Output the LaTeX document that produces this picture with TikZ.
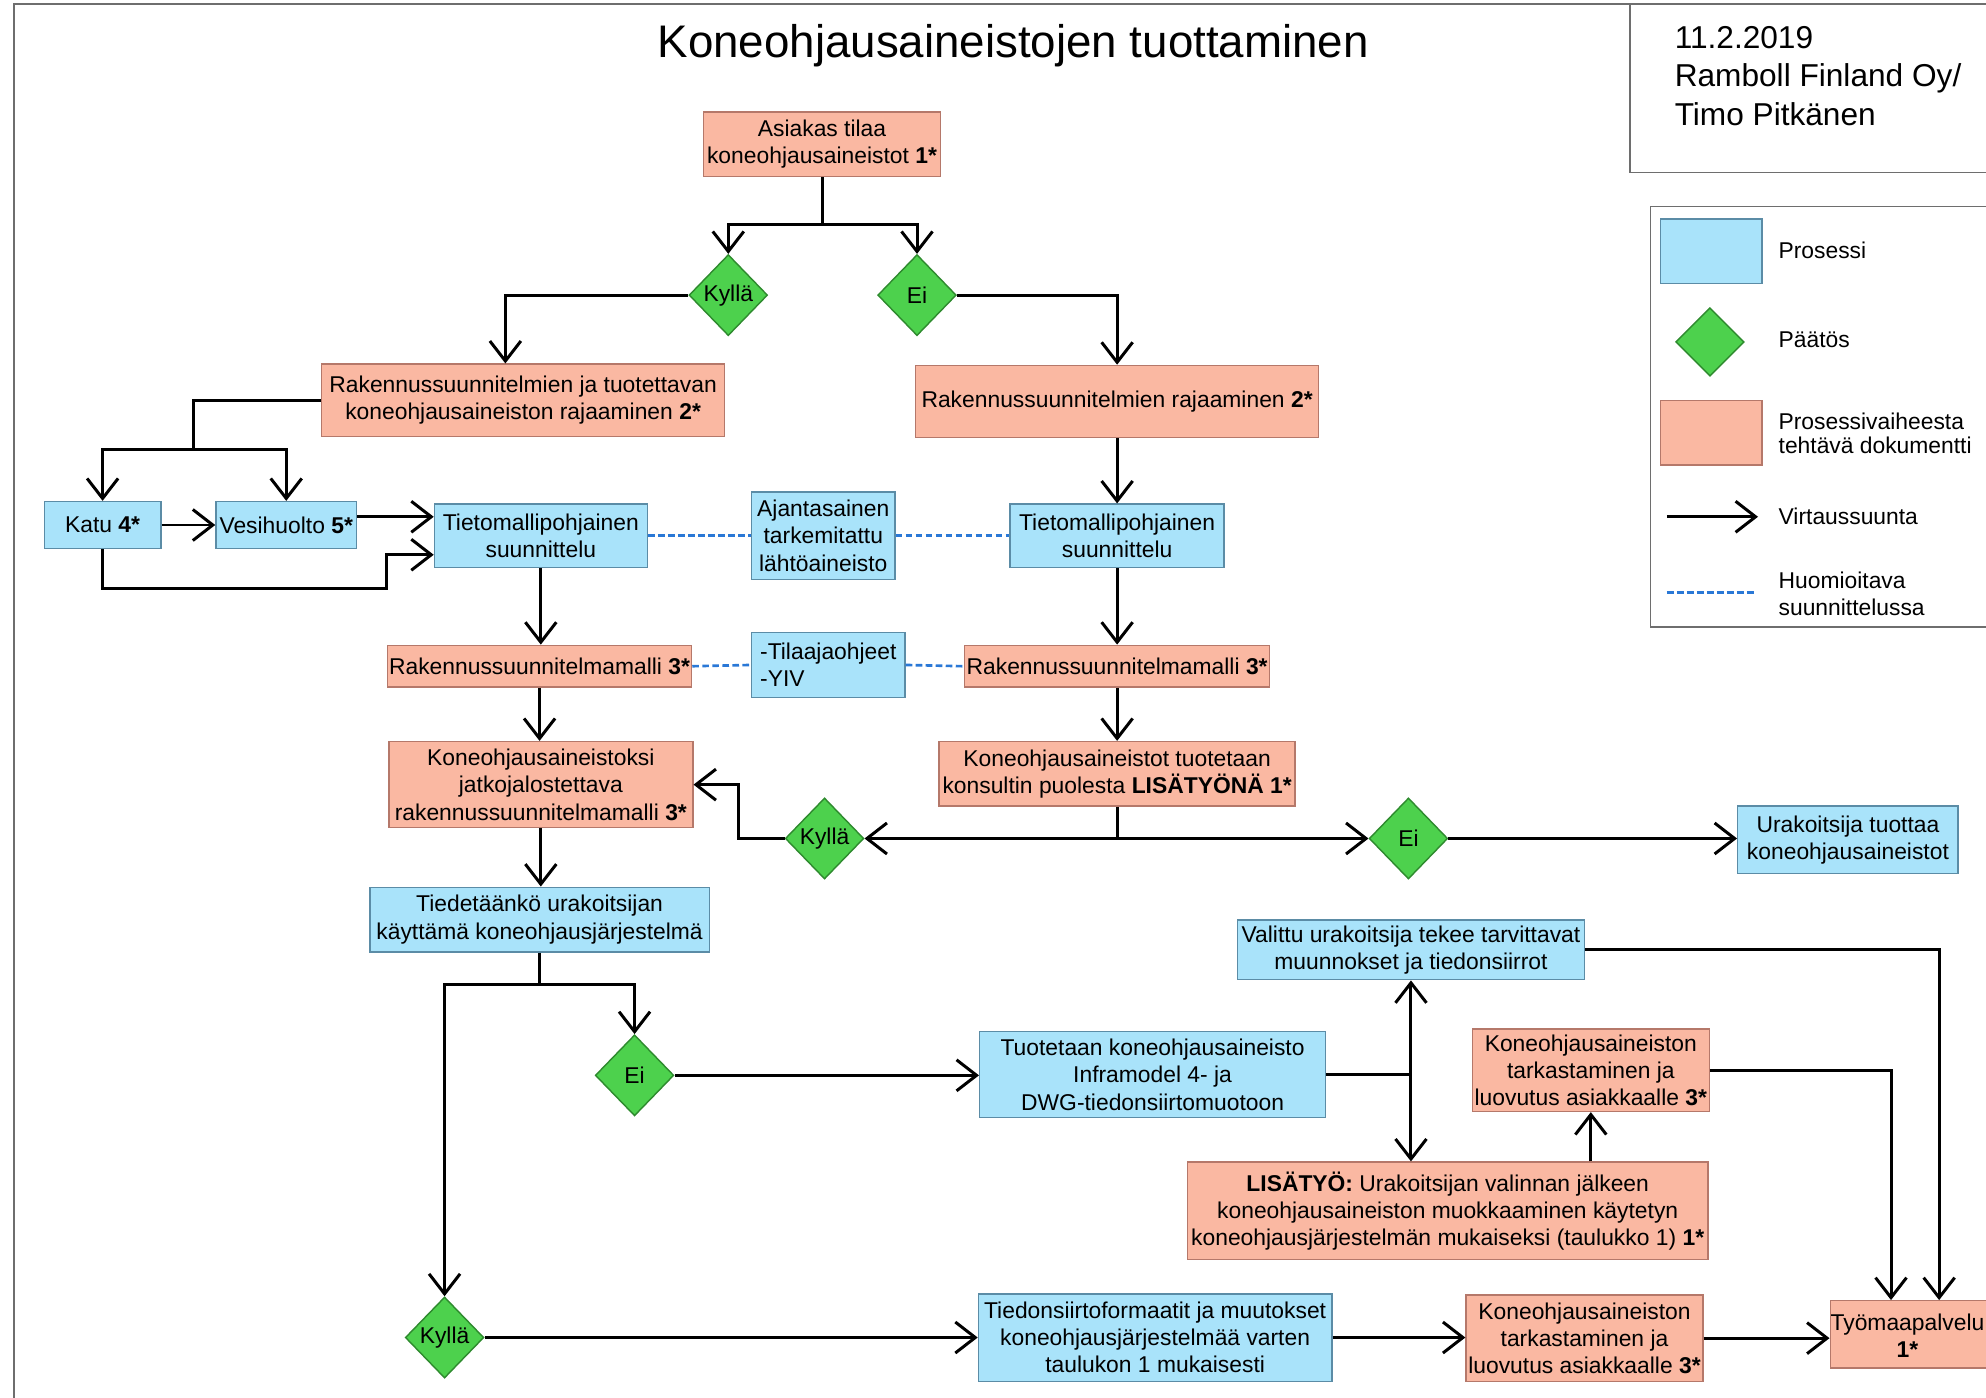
\documentclass[tikz,border=0pt]{standalone}
\usepackage{fontspec}
\setmainfont{Liberation Sans}
\usetikzlibrary{shapes.geometric, arrows.meta, calc}

\definecolor{procblue}{HTML}{A9E3FA}
\definecolor{procedge}{HTML}{5B8CA6}
\definecolor{docsalmon}{HTML}{FAB8A2}
\definecolor{docedge}{HTML}{B5786A}
\definecolor{decgreen}{HTML}{4DD14D}
\definecolor{decedge}{HTML}{2E8A2E}
\definecolor{noteblue}{HTML}{2A78D6}
\definecolor{framegray}{HTML}{6E6E6E}

% one unit = one pixel of the 1568 px wide layout
\newcommand{\px}{0.02533cm}

\begin{document}
\begin{tikzpicture}[x=\px, y=-\px,
    every node/.style={font=\fontsize{13}{15.5}\selectfont, inner sep=0pt},
    boxsize/.style 2 args={minimum width=#1*\px, minimum height=#2*\px},
    process/.style={draw=procedge, fill=procblue, line width=0.8pt, align=center},
    doc/.style={draw=docedge, fill=docsalmon, line width=0.8pt, align=center},
    decision/.style={diamond, draw=decedge, fill=decgreen, line width=0.8pt,
        minimum width=62*\px, minimum height=64*\px},
    flow/.style={line width=1.7pt, -{Straight Barb[length=4mm, width=6.2mm]}},
    link/.style={line width=1.7pt},
    note/.style={draw=noteblue, line width=1.5pt, dash pattern=on 3.8pt off 1.9pt},
    legendtext/.style={anchor=west, align=left}
]
    % Page size and frame
    \useasboundingbox (0,0) rectangle (1568,1103);
    \fill[white] (0,0) rectangle (1568,1103);
    \clip (0,0) rectangle (1568,1103);
    \draw[framegray, line width=0.8pt] (11,3) rectangle (1600,1130);
    \draw[framegray, line width=0.8pt] (1287,3) rectangle (1600,136);
    \draw[framegray, line width=0.8pt] (1303,163) rectangle (1600,495);

    % Title and info
    \node[font=\fontsize{26}{30}\selectfont] (title) at (800,36) {Koneohjausaineistojen tuottaminen};
    \node[legendtext, font=\fontsize{18}{22}\selectfont] (info) at (1322,60)
        {11.2.2019\\Ramboll Finland Oy/\\Timo Pitkänen};

    % Legend
    \node[process, boxsize={80}{51}] (lgproc) at (1351,198.5) {};
    \node[decision, minimum width=54*\px, minimum height=54*\px] (lgdec) at (1350,270) {};
    \node[doc, boxsize={80}{51}] (lgdoc) at (1351,341.5) {};
    \coordinate (lgflowa) at (1316,408);
    \coordinate (lgflowb) at (1388,408);
    \coordinate (lgnotea) at (1316,468);
    \coordinate (lgnoteb) at (1386,468);
    \draw[flow] (lgflowa) -- (lgflowb);
    \draw[note] (lgnotea) -- (lgnoteb);
    \node[legendtext] (lgproctxt) at (1404,198) {Prosessi};
    \node[legendtext] (lgdectxt) at (1404,268) {Päätös};
    \node[legendtext, font=\fontsize{13}{13.8}\selectfont] (lgdoctxt) at (1404,342)
        {Prosessivaiheesta\\tehtävä dokumentti};
    \node[legendtext] (lgflowtxt) at (1404,408) {Virtaussuunta};
    \node[legendtext] (lgnotetxt) at (1404,469) {Huomioitava\\suunnittelussa};

    % Start and first decision
    \node[doc, boxsize={187}{51}] (asiakas) at (649,114) {Asiakas tilaa\\koneohjausaineistot \textbf{1*}};
    \node[decision] (kylla1) at (575,233) {Kyllä};
    \node[decision] (ei1) at (724,233) {Ei};
    \node[doc, boxsize={318}{57}] (rajaus1) at (413,316)
        {Rakennussuunnitelmien ja tuotettavan\\koneohjausaineiston rajaaminen \textbf{2*}};
    \node[doc, boxsize={318}{57}] (rajaus2) at (882,317) {Rakennussuunnitelmien rajaaminen \textbf{2*}};

    % Design
    \node[process, boxsize={92}{37}] (katu) at (81,414.5) {Katu \textbf{4*}};
    \node[process, boxsize={111}{37}] (vesi) at (226,414.5) {Vesihuolto \textbf{5*}};
    \node[process, boxsize={168}{50}] (tieto1) at (427,423) {Tietomallipohjainen\\suunnittelu};
    \node[process, boxsize={113}{69}] (ajan) at (650,423) {Ajantasainen\\tarkemitattu\\lähtöaineisto};
    \node[process, boxsize={169}{50}] (tieto2) at (882,423) {Tietomallipohjainen\\suunnittelu};
    \node[doc, boxsize={240}{33}] (malli1) at (426,526) {Rakennussuunnitelmamalli \textbf{3*}};
    \node[process, boxsize={121}{51}, align=left] (ohjeet) at (654,525) {-Tilaajaohjeet\\-YIV};
    \node[doc, boxsize={241}{33}] (malli2) at (882,526) {Rakennussuunnitelmamalli \textbf{3*}};

    % Machine control data
    \node[doc, boxsize={240}{68}] (jatko) at (427,619.5)
        {Koneohjausaineistoksi\\jatkojalostettava\\rakennussuunnitelmamalli \textbf{3*}};
    \node[doc, boxsize={281}{51}] (konsultti) at (882,611)
        {Koneohjausaineistot tuotetaan\\konsultin puolesta \textbf{LISÄTYÖNÄ 1*}};
    \node[decision] (kylla2) at (651,662) {Kyllä};
    \node[decision] (ei2) at (1112,662) {Ei};
    \node[process, boxsize={174}{53}] (urak) at (1459,663) {Urakoitsija tuottaa\\koneohjausaineistot};
    \node[process, boxsize={268}{51}] (tied) at (426,726)
        {Tiedetäänkö urakoitsijan\\käyttämä koneohjausjärjestelmä};
    \node[decision] (ei3) at (501,849) {Ei};
    \node[decision] (kylla3) at (351,1056) {Kyllä};

    % Deliveries
    \node[process, boxsize={274}{47}] (valittu) at (1114,750)
        {Valittu urakoitsija tekee tarvittavat\\muunnokset ja tiedonsiirrot};
    \node[process, boxsize={273}{68}] (tuot) at (910,848.5)
        {Tuotetaan koneohjausaineisto\\Inframodel 4- ja\\DWG-tiedonsiirtomuotoon};
    \node[doc, boxsize={187}{65}] (tark1) at (1256,845)
        {Koneohjausaineiston\\tarkastaminen ja\\luovutus asiakkaalle \textbf{3*}};
    \node[doc, boxsize={411}{77}] (lisa) at (1143,956)
        {\textbf{LISÄTYÖ:} Urakoitsijan valinnan jälkeen\\koneohjausaineiston muokkaaminen käytetyn\\koneohjausjärjestelmän mukaiseksi (taulukko 1) \textbf{1*}};
    \node[process, boxsize={279}{69}] (tiedsiirto) at (912,1056)
        {Tiedonsiirtoformaatit ja muutokset\\koneohjausjärjestelmää varten\\taulukon 1 mukaisesti};
    \node[doc, boxsize={187}{68}] (tark2) at (1251,1056.5)
        {Koneohjausaineiston\\tarkastaminen ja\\luovutus asiakkaalle \textbf{3*}};
    \node[doc, boxsize={136}{53}] (tyomaa) at (1513,1053.5) {};
    \node[align=center] (tyomaatxt) at (1506,1054.5) {Työmaapalvelu\\\textbf{1*}};

    % Connectors, top part
    \coordinate (split1) at (649,177);
    \draw[flow] (asiakas.south) -- (split1) -| (kylla1.north);
    \draw[flow] (split1) -| (ei1.north);
    \draw[flow] (kylla1.west) -| ($(rajaus1.north)+(-14,0)$);
    \draw[flow] (ei1.east) -| (rajaus2.north);

    % Street and water supply
    \coordinate (split2) at (153,355);
    \draw[flow] (rajaus1.west) -| (split2) -| (katu.north);
    \draw[flow] (split2) -| (vesi.north);
    \draw[flow] (katu.east) -- (vesi.west);
    \coordinate (tin1) at ($(tieto1.west)+(0,-15)$);
    \coordinate (tin2) at ($(tieto1.west)+(0,15)$);
    \draw[flow] (vesi.east |- tin1) -- (tin1);
    \draw[flow] (katu.south) |- ($(tin2)+(-37,27)$) |- (tin2);

    % Things to take into account
    \draw[note] (tieto1.east) -- (ajan.west);
    \draw[note] (ajan.east) -- (tieto2.west);
    \draw[note] (malli1.east) -- (ohjeet.west);
    \draw[note] (ohjeet.east) -- (malli2.west);

    % Down the two columns
    \draw[flow] (tieto1.south) -- (tieto1.south |- malli1.north);
    \draw[flow] (rajaus2.south) -- (tieto2.north);
    \draw[flow] (tieto2.south) -- (malli2.north);
    \draw[flow] (malli1.south) -- (malli1.south |- jatko.north);
    \draw[flow] (malli2.south) -- (konsultti.north);

    % Consultant decision
    \coordinate (split3) at (konsultti.south |- kylla2.east);
    \draw[flow] (konsultti.south) -- (split3) -- (kylla2.east);
    \draw[flow] (split3) -- (ei2.west);
    \draw[flow] (kylla2.west) -- ++(-36,0) |- (jatko.east);
    \draw[flow] (ei2.east) -- (ei2.east -| urak.west);
    \draw[flow] (jatko.south) -- (jatko.south |- tied.north);

    % Known control system?
    \coordinate (split4) at ($(tied.south)+(0,25)$);
    \draw[flow] (tied.south) -- (split4) -| (ei3.north);
    \draw[flow] (split4) -| (kylla3.north);
    \draw[flow] (ei3.east) -- (ei3.east -| tuot.west);
    \coordinate (joint1) at (tuot.east -| valittu.south);
    \draw[link] (tuot.east) -- (joint1);
    \draw[flow] (joint1) -- (valittu.south);
    \draw[flow] (joint1) -- (joint1 |- lisa.north);
    \draw[flow] (lisa.north -| tark1.south) -- (tark1.south);
    \draw[flow] (tark1.east) -| ($(tyomaa.north)+(-20,0)$);
    \draw[flow] (valittu.east) -| ($(tyomaa.north)+(18,0)$);
    \draw[flow] (kylla3.east) -- (kylla3.east -| tiedsiirto.west);
    \draw[flow] (tiedsiirto.east) -- (tiedsiirto.east -| tark2.west);
    \draw[flow] (tark2.east) -- (tark2.east -| tyomaa.west);
\end{tikzpicture}
\end{document}
